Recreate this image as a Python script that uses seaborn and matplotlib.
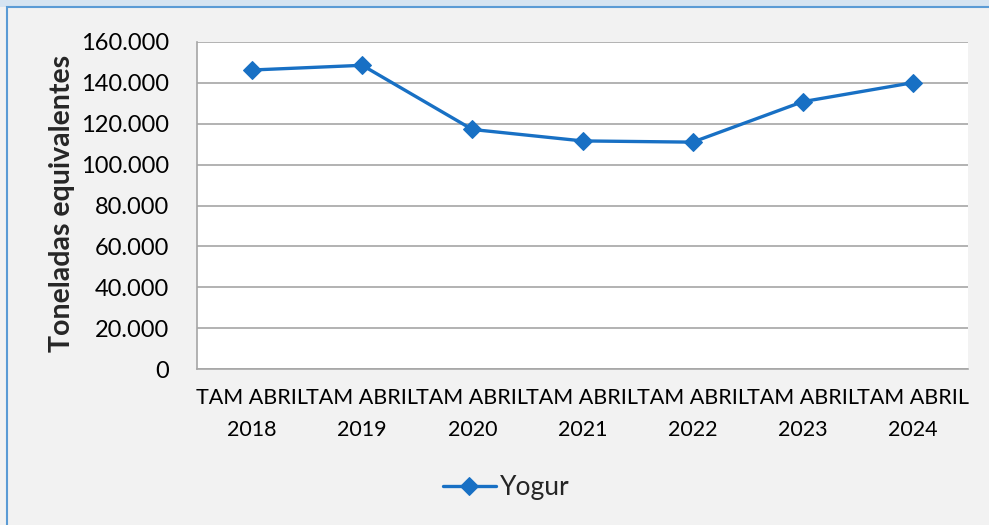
import matplotlib
matplotlib.use("Agg")
import matplotlib.pyplot as plt
from matplotlib.patches import Rectangle
from matplotlib.ticker import FuncFormatter, MultipleLocator
import seaborn as sns
import pandas as pd

# datos
periodos = ["TAM ABRIL\n2018", "TAM ABRIL\n2019", "TAM ABRIL\n2020", "TAM ABRIL\n2021",
            "TAM ABRIL\n2022", "TAM ABRIL\n2023", "TAM ABRIL\n2024"]
yogur = [146300, 148600, 117200, 111600, 111000, 130800, 140100]
serie = "Yogur"
eje_y = "Toneladas equivalentes"

color_linea = "#1870c4"
fondo = "#f2f2f2"

sns.set_style("white")
plt.rcParams["font.family"] = ["Lato", "DejaVu Sans"]

W, H = 989, 525
fig = plt.figure(figsize=(W / 100, H / 100), dpi=100, facecolor=fondo)

# marco exterior
fig.patches.append(Rectangle((0, 1 - 7 / H), 1, 7 / H, transform=fig.transFigure,
                             facecolor="#d6e4f1", edgecolor="none", zorder=-2))
fig.patches.append(Rectangle((7 / W, -0.05), 1.1, 1 - 7 / H + 0.05, transform=fig.transFigure,
                             facecolor=fondo, edgecolor="#5b9bd5", linewidth=1.5, zorder=-1))

ax = fig.add_axes([197 / W, 1 - 369 / H, (968 - 197) / W, (369 - 42) / H])
ax.set_facecolor("white")

df = pd.DataFrame({"periodo": periodos, "valor": yogur})
sns.lineplot(data=df, x="periodo", y="valor", ax=ax, color=color_linea, linewidth=2.4,
             marker="D", markersize=9, markeredgecolor=color_linea, label=serie, legend=False)

ax.set_xlim(-0.5, len(periodos) - 0.5)
ax.set_ylim(0, 160000)
ax.yaxis.set_major_locator(MultipleLocator(20000))
ax.yaxis.set_major_formatter(FuncFormatter(lambda v, p: "0" if v == 0 else f"{int(v):,}".replace(",", ".")))
ax.grid(axis="y", color="#a6a6a6", linewidth=1.2)
ax.set_axisbelow(True)
for lado in ["top", "right"]:
    ax.spines[lado].set_visible(False)
for lado in ["left", "bottom"]:
    ax.spines[lado].set_color("#a6a6a6")
    ax.spines[lado].set_linewidth(1.2)
ax.tick_params(axis="y", length=0, pad=20, labelsize=17, colors="black")
ax.tick_params(axis="x", length=0, pad=14, labelsize=15.5, colors="black")
plt.setp(ax.get_xticklabels(), linespacing=1.75)
ax.set_xlabel("")
ax.set_ylabel("")

fig.text(62 / W, 1 - 203 / H, eje_y, rotation=90, ha="center", va="center",
         fontsize=20.5, fontweight="bold")

fig.legend(handles=ax.get_lines()[:1], labels=[serie], loc="center",
           bbox_to_anchor=(506 / W, 1 - 488 / H), frameon=False, fontsize=19,
           handlelength=2.0, handletextpad=0.15)

fig.savefig("out.png", dpi=100, facecolor=fondo)
